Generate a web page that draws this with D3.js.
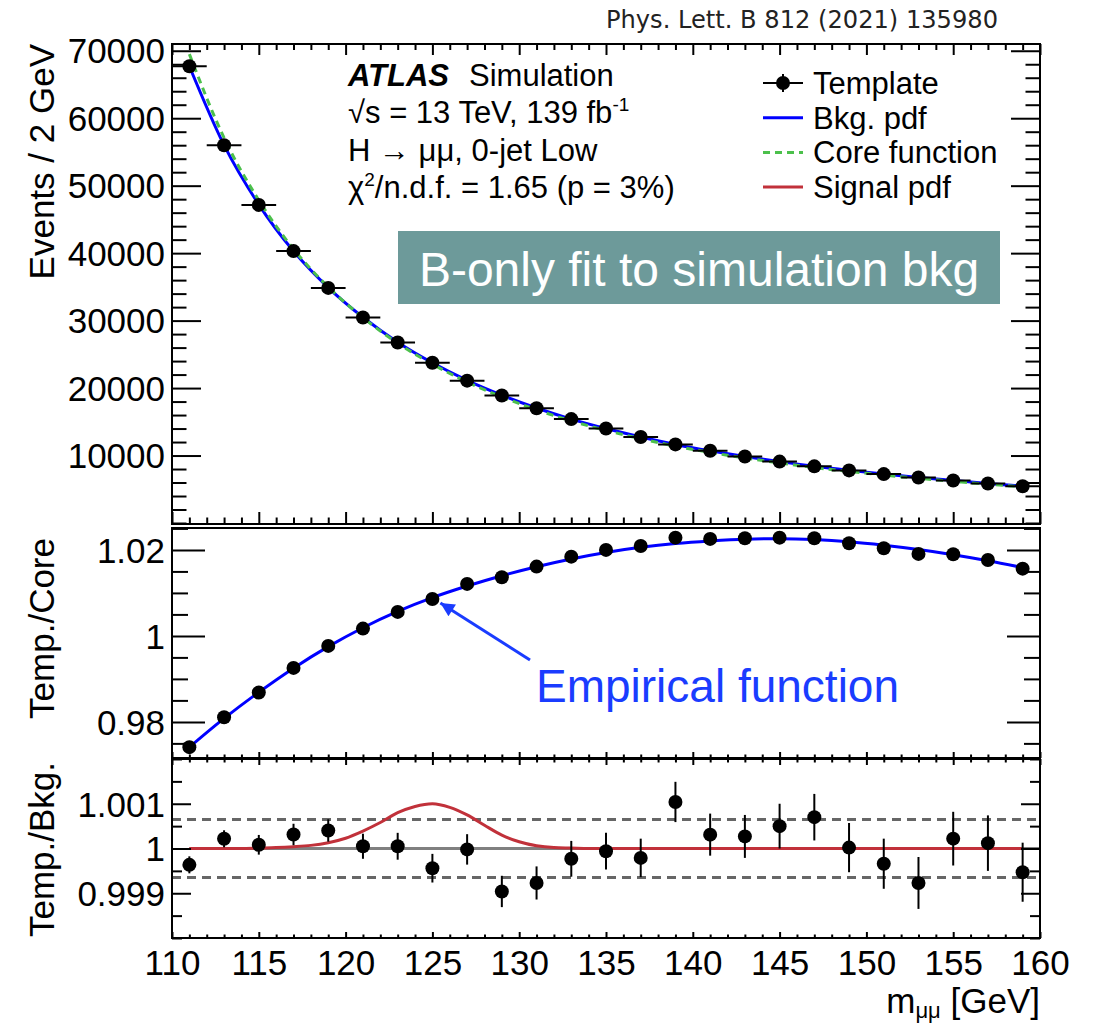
<!DOCTYPE html>
<html>
  <head>
    <title>H to mumu 0-jet Low template fit</title>
    <script src="https://d3js.org/d3.v7.min.js"></script>
    <style>
      body { margin: 0; background: #fff; }
      text { font-family: "Liberation Sans", Arial, Helvetica, sans-serif; fill: #000; }
    </style>
  </head>
  <body>
    <svg width="1096" height="1026"></svg>

    <script>
      // bin centres [GeV]
      const massBins = [111, 113, 115, 117, 119, 121, 123, 125, 127, 129, 131, 133, 135,
                        137, 139, 141, 143, 145, 147, 149, 151, 153, 155, 157, 159];

      // top panel: events / 2 GeV
      const templateEvents = [67700, 56000, 47150, 40300, 34850, 30450, 26750, 23750, 21100,
                              18900, 17000, 15400, 14000, 12750, 11650, 10700, 9850, 9100,
                              8400, 7800, 7250, 6750, 6300, 5850, 5450];
      const bkgPdf = [67700, 56000, 47200, 40300, 34900, 30500, 26800, 23750, 21150, 18950,
                      17050, 15400, 14000, 12750, 11650, 10700, 9850, 9100, 8400, 7800,
                      7250, 6750, 6300, 5850, 5450];
      const coreFunction = [69500, 57080, 47830, 40600, 34980, 30450, 26650, 23545, 20900,
                            18690, 16780, 15120, 13725, 12490, 11400, 10460, 9630, 8900,
                            8215, 7635, 7105, 6620, 6180, 5750, 5365];

      // middle panel: template / core
      const tempOverCore = [0.97412, 0.98109, 0.98682, 0.99256, 0.99767, 1.0017, 1.00558,
                            1.0086, 1.0121, 1.01365, 1.01612, 1.01844, 1.0200, 1.02093,
                            1.02286, 1.02256, 1.02272, 1.02286, 1.02272, 1.02156, 1.0204,
                            1.01907, 1.019, 1.01767, 1.01565];
      const empiricalFit = [0.9741, 0.9808, 0.9869, 0.9925, 0.9975, 1.0019, 1.0057, 1.0089,
                            1.0116, 1.0140, 1.0161, 1.0179, 1.0194, 1.0206, 1.0215, 1.0221,
                            1.0225, 1.0226, 1.0224, 1.0219, 1.0211, 1.0201, 1.0189, 1.0175,
                            1.0159];

      // bottom panel: template / bkg
      const tempOverBkg = [0.999635, 1.000217, 1.000083, 1.000313, 1.000403, 1.00005, 1.00005,
                           0.99956, 0.99998, 0.99904, 0.99923, 0.99977, 0.99994, 0.99979,
                           1.00104, 1.00031, 1.00027, 1.0005, 1.0007, 1.00002, 0.99966,
                           0.99923, 1.00022, 1.00012, 0.99947];
      const tempOverBkgErr = [0.00019, 0.00019, 0.00022, 0.00024, 0.00025, 0.00028, 0.0003,
                              0.00032, 0.00034, 0.00035, 0.00037, 0.0004, 0.00041, 0.00043,
                              0.00045, 0.00047, 0.00048, 0.0005, 0.00052, 0.00055, 0.00056,
                              0.00058, 0.0006, 0.00062, 0.00066];
      const signalMass = [111, 114, 115, 116, 117, 118, 119, 120, 121, 122, 123, 124, 125,
                          126, 127, 128, 129, 130, 131, 132, 133, 134, 159];
      const signalRatio = [1.0, 1.0, 1.00001, 1.00002, 1.00004, 1.00007, 1.00013, 1.00023,
                           1.00039, 1.00058, 1.0008, 1.00094, 1.001, 1.00092, 1.00075,
                           1.00052, 1.0003, 1.00015, 1.00006, 1.00002, 1.00001, 1.0, 1.0];
      const bandLimits = [0.99935, 1.00065];

      // tick labels
      const xTicks = [110, 115, 120, 125, 130, 135, 140, 145, 150, 155, 160];
      const yTicksTop = [10000, 20000, 30000, 40000, 50000, 60000, 70000];
      const yTicksMid = [0.98, 1, 1.02];
      const yTicksMidLabels = ["0.98", "1", "1.02"];
      const yTicksBot = [0.999, 1, 1.001];
      const yTicksBotLabels = ["0.999", "1", "1.001"];

      const svg = d3.select("svg");
      const left = 172, right = 1040;
      const labelSize = 35;

      const x = d3.scaleLinear().domain([110, 160]).range([left, right]);
      const panels = [
        {y: d3.scaleLinear().domain([0, 71000]).range([523, 44]), top: 44, bottom: 524,
         ticks: yTicksTop, labels: d => d3.format("d")(d), minorStep: 2000,
         yMajor: 29, yMinor: 14.5, xTop: [11, 6], xBot: [12, 6.5]},
        {y: d3.scaleLinear().domain([0.9716, 1.0251]).range([758, 528]), top: 528, bottom: 758,
         ticks: yTicksMid, labels: d => yTicksMidLabels[yTicksMid.indexOf(d)], minorStep: 0.005,
         yMajor: 33, yMinor: 16, xTop: [0, 0], xBot: [6, 3.5]},
        {y: d3.scaleLinear().domain([0.998, 1.002]).range([938, 759]), top: 759, bottom: 938,
         ticks: yTicksBot, labels: d => yTicksBotLabels[yTicksBot.indexOf(d)], minorStep: 0.0005,
         yMajor: 19, yMinor: 10, xTop: [6, 3.5], xBot: [6, 3.5]}
      ];

      const minorX = d3.range(110, 161, 1).filter(v => v % 5 !== 0);

      function drawFrame(p, showXLabels){
        const g = svg.append("g");
        const d0 = p.y.domain();
        const minorY = d3.range(Math.ceil(d0[0] / p.minorStep) * p.minorStep, d0[1], p.minorStep)
          .filter(v => !p.ticks.some(t => Math.abs(t - v) < p.minorStep / 10));

        const yAxis = g.append("g").attr("transform", `translate(${left},0)`)
          .call(d3.axisLeft(p.y).tickValues(p.ticks).tickSize(-p.yMajor).tickPadding(7)
            .tickFormat(p.labels));
        yAxis.selectAll("text").attr("font-size", labelSize).attr("dy", "0.35em");
        g.append("g").attr("transform", `translate(${left},0)`)
          .call(d3.axisLeft(p.y).tickValues(minorY).tickSize(-p.yMinor).tickFormat(""));
        g.append("g").attr("transform", `translate(${right},0)`)
          .call(d3.axisRight(p.y).tickValues(p.ticks).tickSize(-p.yMajor).tickFormat(""));
        g.append("g").attr("transform", `translate(${right},0)`)
          .call(d3.axisRight(p.y).tickValues(minorY).tickSize(-p.yMinor).tickFormat(""));

        if (p.xTop[0] > 0){
          g.append("g").attr("transform", `translate(0,${p.top})`)
            .call(d3.axisTop(x).tickValues(xTicks).tickSize(-p.xTop[0]).tickFormat(""));
          g.append("g").attr("transform", `translate(0,${p.top})`)
            .call(d3.axisTop(x).tickValues(minorX).tickSize(-p.xTop[1]).tickFormat(""));
        }
        const xb = g.append("g").attr("transform", `translate(0,${p.bottom})`)
          .call(d3.axisBottom(x).tickValues(xTicks).tickSize(-p.xBot[0]).tickPadding(12)
            .tickFormat(showXLabels ? d3.format("d") : ""));
        xb.selectAll("text").attr("font-size", labelSize);
        g.append("g").attr("transform", `translate(0,${p.bottom})`)
          .call(d3.axisBottom(x).tickValues(minorX).tickSize(-p.xBot[1]).tickFormat(""));

        g.selectAll(".domain").remove();
        g.selectAll(".tick line").attr("stroke", "#000").attr("stroke-width", 2);
        g.append("rect")
          .attr("x", left).attr("y", p.top)
          .attr("width", right - left).attr("height", p.bottom - p.top)
          .attr("fill", "none").attr("stroke", "#000").attr("stroke-width", 2);
      }

      const [pTop, pMid, pBot] = panels;
      const lineTop = d3.line().x((d, i) => x(massBins[i])).y(d => pTop.y(d)).curve(d3.curveMonotoneX);
      const lineMid = d3.line().x((d, i) => x(massBins[i])).y(d => pMid.y(d)).curve(d3.curveMonotoneX);

      // ---- top panel ----
      svg.append("path").attr("d", lineTop(bkgPdf))
        .attr("fill", "none").attr("stroke", "#0000ff").attr("stroke-width", 3);
      svg.append("path").attr("d", lineTop(coreFunction))
        .attr("fill", "none").attr("stroke", "#4cc04c").attr("stroke-width", 3)
        .attr("stroke-dasharray", "7,5");
      const tpts = svg.append("g").selectAll("g").data(templateEvents).join("g");
      tpts.append("line")
        .attr("x1", (d, i) => x(massBins[i] - 1)).attr("x2", (d, i) => x(massBins[i] + 1))
        .attr("y1", d => pTop.y(d)).attr("y2", d => pTop.y(d))
        .attr("stroke", "#000").attr("stroke-width", 2);
      tpts.append("circle")
        .attr("cx", (d, i) => x(massBins[i])).attr("cy", d => pTop.y(d)).attr("r", 7);
      drawFrame(pTop, false);

      // ---- middle panel ----
      svg.append("path").attr("d", lineMid(empiricalFit))
        .attr("fill", "none").attr("stroke", "#0000ff").attr("stroke-width", 3);
      svg.append("g").selectAll("circle").data(tempOverCore).join("circle")
        .attr("cx", (d, i) => x(massBins[i])).attr("cy", d => pMid.y(d)).attr("r", 7);
      drawFrame(pMid, false);

      // ---- bottom panel ----
      const bot = svg.append("g");
      bot.selectAll("line.band").data(bandLimits).join("line")
        .attr("class", "band")
        .attr("x1", left).attr("x2", right)
        .attr("y1", d => pBot.y(d)).attr("y2", d => pBot.y(d))
        .attr("stroke", "#666").attr("stroke-width", 3).attr("stroke-dasharray", "9,6");
      bot.append("line")
        .attr("x1", x(111)).attr("x2", x(160)).attr("y1", pBot.y(1)).attr("y2", pBot.y(1))
        .attr("stroke", "#808080").attr("stroke-width", 3);
      bot.append("path")
        .attr("d", d3.line().x((d, i) => x(signalMass[i])).y(d => pBot.y(d))
          .curve(d3.curveMonotoneX)(signalRatio))
        .attr("fill", "none").attr("stroke", "#c1313a").attr("stroke-width", 3);
      const bpts = bot.append("g").selectAll("g").data(tempOverBkg).join("g");
      bpts.append("line")
        .attr("x1", (d, i) => x(massBins[i])).attr("x2", (d, i) => x(massBins[i]))
        .attr("y1", (d, i) => pBot.y(d - tempOverBkgErr[i]))
        .attr("y2", (d, i) => pBot.y(d + tempOverBkgErr[i]))
        .attr("stroke", "#000").attr("stroke-width", 2);
      bpts.append("circle")
        .attr("cx", (d, i) => x(massBins[i])).attr("cy", d => pBot.y(d)).attr("r", 7);
      drawFrame(pBot, true);

      // ---- axis titles ----
      const titles = [
        {text: "Events / 2 GeV", y: 44},
        {text: "Temp./Core", y: 538},
        {text: "Temp./Bkg.", y: 762}
      ];
      svg.selectAll("text.ytitle").data(titles).join("text")
        .attr("class", "ytitle")
        .attr("transform", d => `translate(54,${d.y}) rotate(-90)`)
        .attr("text-anchor", "end").attr("font-size", labelSize)
        .text(d => d.text);

      const xt = svg.append("text").attr("x", right).attr("y", 1013)
        .attr("text-anchor", "end").attr("font-size", labelSize);
      xt.append("tspan").text("m");
      xt.append("tspan").attr("font-size", 22).attr("dy", 5).text("μμ");
      xt.append("tspan").attr("dy", -5).text(" [GeV]");

      // ---- ATLAS label ----
      const lab = svg.append("g");
      lab.append("text").attr("x", 348).attr("y", 86)
        .attr("font-weight", "bold").attr("font-style", "italic").attr("font-size", 31).text("ATLAS");
      lab.append("text").attr("x", 469).attr("y", 86).attr("font-size", 31).text("Simulation");
      const l2 = lab.append("text").attr("x", 348).attr("y", 123).attr("font-size", 31);
      l2.append("tspan").text("√s = 13 TeV, 139 fb");
      l2.append("tspan").attr("font-size", 19).attr("dy", -12).text("-1");
      lab.append("text").attr("x", 348).attr("y", 161).attr("font-size", 31)
        .text("H → μμ, 0-jet Low");
      const l4 = lab.append("text").attr("x", 348).attr("y", 198).attr("font-size", 31);
      l4.append("tspan").text("χ");
      l4.append("tspan").attr("font-size", 19).attr("dy", -12).text("2");
      l4.append("tspan").attr("dy", 12).text("/n.d.f. = 1.65 (p = 3%)");

      // ---- legend ----
      const legend = [
        {label: "Template", type: "point"},
        {label: "Bkg. pdf", type: "line", color: "#0000ff"},
        {label: "Core function", type: "dash", color: "#4cc04c"},
        {label: "Signal pdf", type: "line", color: "#c1313a"}
      ];
      const lg = svg.append("g").selectAll("g").data(legend).join("g")
        .attr("transform", (d, i) => `translate(0,${83 + i * 34.7})`);
      lg.append("line")
        .attr("x1", 763).attr("x2", 803).attr("y1", 0).attr("y2", 0)
        .attr("stroke", d => d.type === "point" ? "#000" : d.color)
        .attr("stroke-width", d => d.type === "point" ? 2 : 3)
        .attr("stroke-dasharray", d => d.type === "dash" ? "7,5" : null);
      lg.filter(d => d.type === "point").append("line")
        .attr("x1", 783).attr("x2", 783).attr("y1", -9).attr("y2", 9)
        .attr("stroke", "#000").attr("stroke-width", 2);
      lg.filter(d => d.type === "point").append("circle")
        .attr("cx", 783).attr("cy", 0).attr("r", 7);
      lg.append("text").attr("x", 813).attr("y", 11).attr("font-size", 31)
        .text(d => d.label);

      // ---- annotation box ----
      svg.append("rect").attr("x", 398).attr("y", 231).attr("width", 602).attr("height", 73)
        .attr("fill", "#6d9a9a");
      svg.append("text").attr("x", 699).attr("y", 286).attr("text-anchor", "middle")
        .attr("font-size", 48).style("fill", "#fff").text("B-only fit to simulation bkg");

      // ---- empirical function arrow ----
      svg.append("defs").append("marker")
        .attr("id", "head").attr("viewBox", "0 0 10 10")
        .attr("refX", 10).attr("refY", 5)
        .attr("markerUnits", "userSpaceOnUse")
        .attr("markerWidth", 18).attr("markerHeight", 14)
        .attr("orient", "auto")
        .append("path").attr("d", "M0,0L10,5L0,10z").attr("fill", "#1a3cff");
      svg.append("line")
        .attr("x1", 530).attr("y1", 660)
        .attr("x2", x(125) + 8).attr("y2", pMid.y(tempOverCore[7]) + 4)
        .attr("stroke", "#1a3cff").attr("stroke-width", 3)
        .attr("marker-end", "url(#head)");
      svg.append("text").attr("x", 536).attr("y", 702).attr("font-size", 46)
        .style("fill", "#1a3cff").text("Empirical function");

      // ---- publication reference ----
      svg.append("text").attr("x", 606).attr("y", 28)
        .attr("font-size", 24).attr("textLength", 392).attr("lengthAdjust", "spacingAndGlyphs")
        .style("font-family", "'DejaVu Sans', sans-serif").style("fill", "#222")
        .text("Phys. Lett. B 812 (2021) 135980");
    </script>
  </body>
</html>
